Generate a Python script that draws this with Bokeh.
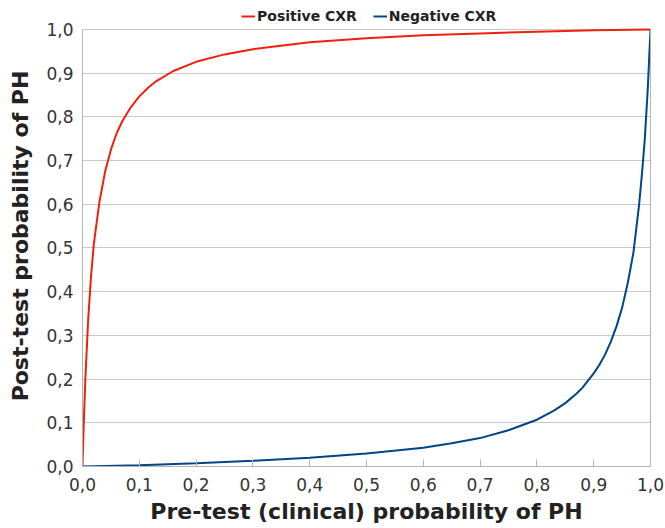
from bokeh.plotting import figure
from bokeh.models import Range1d, CustomJSTickFormatter, Legend, LegendItem, FixedTicker, LinearAxis
from bokeh.embed import file_html
from bokeh.resources import INLINE

# Positive CXR
pos_x = [0.0, 0.002, 0.005, 0.01, 0.015, 0.02, 0.03, 0.04, 0.05, 0.06, 0.07, 0.085, 0.1, 0.115,
         0.13, 0.16, 0.2, 0.25, 0.3, 0.4, 0.5, 0.6, 0.7, 0.8, 0.9, 1.0]
pos_y = [0.0, 0.09, 0.20, 0.336, 0.435, 0.51, 0.607, 0.676, 0.725, 0.762, 0.79, 0.822, 0.847, 0.866,
         0.882, 0.905, 0.926, 0.943, 0.955, 0.971, 0.98, 0.987, 0.991, 0.995, 0.998, 1.0]

# Negative CXR
neg_x = [0.0, 0.1, 0.2, 0.3, 0.4, 0.5, 0.6, 0.65, 0.7, 0.75, 0.8, 0.83, 0.85, 0.87, 0.88, 0.9,
         0.91, 0.92, 0.93, 0.94, 0.95, 0.96, 0.97, 0.98, 0.985, 0.99, 0.995, 1.0]
neg_y = [0.0, 0.003, 0.0075, 0.013, 0.02, 0.03, 0.043, 0.053, 0.065, 0.083, 0.107, 0.128, 0.145, 0.167,
         0.18, 0.213, 0.233, 0.256, 0.285, 0.32, 0.363, 0.42, 0.49, 0.6, 0.67, 0.75, 0.86, 1.0]

ticks = [0.0, 0.1, 0.2, 0.3, 0.4, 0.5, 0.6, 0.7, 0.8, 0.9, 1.0]
series_names = ["Positive CXR", "Negative CXR"]

# frame extends a little above 1.0 to leave room for the legend at the top
p = figure(width=665, height=528, output_backend="svg", toolbar_location=None,
           x_range=Range1d(0, 1), y_range=Range1d(0, 1.0549),
           min_border_left=82, min_border_right=15, min_border_top=5, min_border_bottom=62)

r1 = p.line(pos_x, pos_y, line_color="#f0200e", line_width=2)
r2 = p.line(neg_x, neg_y, line_color="#004586", line_width=2)

fmt = CustomJSTickFormatter(code="return tick.toFixed(1).replace('.', ',');")
for ax in (p.xaxis[0], p.yaxis[0]):
    ax.ticker = FixedTicker(ticks=ticks)
    ax.formatter = fmt
    ax.axis_line_color = "#b3b3b3"
    ax.major_tick_line_color = "#b3b3b3"
    ax.minor_tick_line_color = None
    ax.major_label_text_font = "DejaVu Sans"
    ax.major_label_text_font_size = "17px"
    ax.major_label_text_color = "#333333"
    ax.axis_label_text_font = "DejaVu Sans"
    ax.axis_label_text_font_size = "22px"
    ax.axis_label_text_font_style = "bold"
    ax.axis_label_text_color = "#222222"

p.yaxis.bounds = (ticks[0], ticks[-1])
p.xaxis.major_tick_in = 7
p.xaxis.major_tick_out = 0
p.xaxis.major_label_standoff = 11
p.yaxis.major_tick_in = 0
p.yaxis.major_tick_out = 0
p.yaxis.major_label_standoff = 9
p.xaxis.axis_label = "Pre-test (clinical) probability of PH"
p.yaxis.axis_label = "Post-test probability of PH"
p.xaxis.axis_label_standoff = 5
p.yaxis.axis_label_standoff = 10

# right border line (only from 0 to 1)
right_ax = LinearAxis(bounds=(ticks[0], ticks[-1]), ticker=FixedTicker(ticks=[]),
                      axis_line_color="#b3b3b3", major_tick_line_color=None,
                      minor_tick_line_color=None, major_label_text_font_size="0px",
                      major_tick_in=0, major_tick_out=0)
p.add_layout(right_ax, "right")

p.xgrid.grid_line_color = None
p.ygrid.grid_line_color = "#c8c8c8"
p.ygrid.ticker = FixedTicker(ticks=ticks)
p.outline_line_color = None

legend = Legend(items=[LegendItem(label=series_names[0], renderers=[r1]),
                       LegendItem(label=series_names[1], renderers=[r2])],
                orientation="horizontal", location=(159, 442),
                label_text_font="DejaVu Sans", label_text_font_size="14px",
                label_text_font_style="bold", label_text_color="#222222",
                glyph_width=14, glyph_height=12, label_standoff=2, spacing=16,
                label_height=12, padding=0, margin=0, border_line_color=None,
                background_fill_alpha=0)
p.add_layout(legend)

open("out.html", "w").write(file_html(p, INLINE))
